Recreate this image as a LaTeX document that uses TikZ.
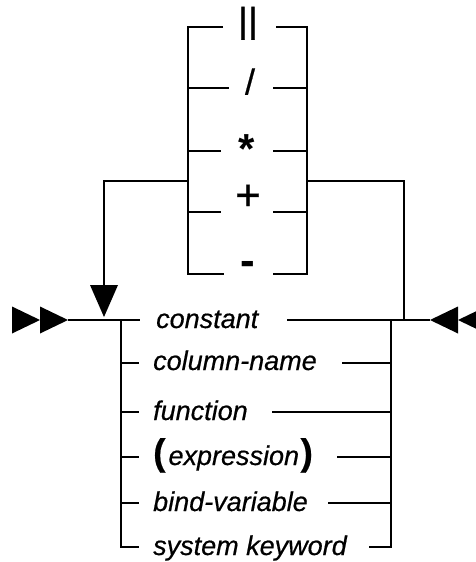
\documentclass[tikz,border=0pt]{standalone}
\usepackage{fontspec}
\setmainfont{Liberation Sans}
\newfontfamily\railfont{Liberation Sans}[FakeBold=0.5]
\begin{document}
\begin{tikzpicture}[x=1pt,y=-1pt,
  rail/.style={line width=2.8pt, line join=miter},
  lab/.style={font=\railfont\fontsize{27}{27}\selectfont\itshape, anchor=base west, inner sep=0pt},
  op/.style={anchor=base, inner sep=0pt},
  tipshape/.style={fill=black, draw=none}]
\useasboundingbox (0,0) rectangle (476,562);

% ---- operator choice box ----
\node[inner sep=0pt, anchor=south, font=\railfont\fontsize{35}{35}\selectfont] (oOr) at (248,40) {\resizebox*{20pt}{33pt}{||}};
\node[op, font=\railfont\fontsize{36}{36}\selectfont] (oDiv) at (250,94.5) {/};
\node[op, font=\fontsize{42}{42}\selectfont\bfseries] (oMul) at (247,163.5) {*};
\node[op, font=\railfont\fontsize{44}{44}\selectfont] (oAdd) at (248,210) {+};
\node[op, font=\fontsize{44}{44}\selectfont\bfseries] (oSub) at (248,275) {-};

\coordinate (boxTL) at (188,27);  \coordinate (boxBL) at (188,274);
\coordinate (boxTR) at (307,27);  \coordinate (boxBR) at (307,274);
\draw[rail] (223,27) -- (boxTL) -- (boxBL) -- (224,274);
\draw[rail] (276,27) -- (boxTR) -- (boxBR) -- (273,274);
\draw[rail] (188,88)  -- (229,88);   \draw[rail] (273,88)  -- (307,88);
\draw[rail] (188,151) -- (221,151);  \draw[rail] (273,151) -- (307,151);
\draw[rail] (188,212) -- (221,212);  \draw[rail] (273,212) -- (307,212);

% ---- main line junctions ----
\coordinate (in)    at (68,320);
\coordinate (split) at (121,320);
\coordinate (join)  at (391,320);
\coordinate (loopOut) at (404,320);
\coordinate (out)   at (430,320);

% entry and exit arrowheads
\fill[tipshape] (12,306.5) -- (40,320) -- (12,333.5) -- cycle;
\fill[tipshape] (40,306.5) -- (in) -- (40,333.5) -- cycle;
\fill[tipshape] (out) -- (458,306.5) -- (458,333.5) -- cycle;
\fill[tipshape] (458,320) -- (486,306.5) -- (486,333.5) -- cycle;

% ---- operand labels ----
\node[lab] (cConst) at (156,328) {constant};
\node[lab] (cCol)   at (153,370) {column-name};
\node[lab] (cFunc)  at (153,420) {function};
\node[lab] (cExpr)  at (153,465) {{\fontsize{37}{37}\selectfont\bfseries\upshape(}\kern3pt expression\kern1.5pt{\fontsize{37}{37}\selectfont\bfseries\upshape)}};
\node[lab] (cBind)  at (153,511) {bind-variable};
\node[lab] (cSys)   at (153,555) {system keyword};

% main line through the first operand
\draw[rail] (in) -- (140,320);
\draw[rail] (287,320) -- (out);

% left branch rail with stubs
\draw[rail] (split) -- (121,547) -- (139,547);
\foreach \y in {363,412,457,503} \draw[rail] (121,\y) -- (139,\y);

% right branch rail with stubs
\draw[rail] (join) -- (391,547) -- (369,547);
\draw[rail] (342,363) -- (391,363);
\draw[rail] (272,412) -- (391,412);
\draw[rail] (337,457) -- (391,457);
\draw[rail] (328,503) -- (391,503);

% repeat loop through the operator box
\draw[rail] (boxBR |- 0,181) -- (404,181) -- (loopOut);
\draw[rail] (boxBL |- 0,181) -- (104,181) -- (104,287);
\fill[tipshape] (90,285) -- (118,285) -- (104,317) -- cycle;
\end{tikzpicture}
\end{document}
